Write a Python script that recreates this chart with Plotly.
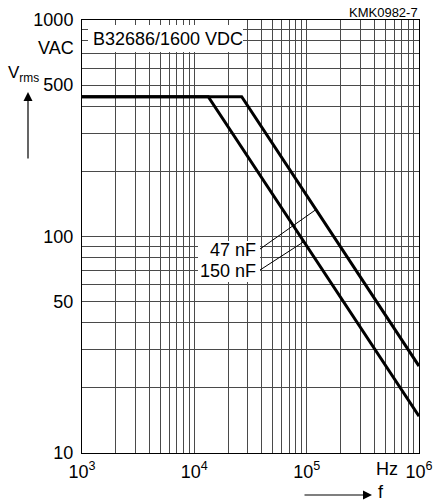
import numpy as np
import plotly.graph_objects as go

# ---- data ----
f_47nF = [1e3, 2.64e4, 1e6]
v_47nF = [442, 442, 25.2]
f_150nF = [1e3, 1.33e4, 1e6]
v_150nF = [442, 442, 14.8]

series_names = ["47 nF", "150 nF"]
# leader-line: label anchor (f, V) and the frequency where it meets the curve
leader_start_f = [3.84e4, 3.84e4]
leader_start_v = [87.5, 70.0]
leader_end_f = [1.21e5, 9.44e4]

x_major = [1e3, 1e4, 1e5, 1e6]
x_major_text = ["10<sup>3</sup>", "10<sup>4</sup>", "10<sup>5</sup>", "10<sup>6</sup>"]
y_major = [10, 50, 100, 500, 1000]
y_major_text = ["10", "50", "100", "500", "1000"]
minor_digits = [2, 3, 4, 5, 6, 7, 8, 9]

W, H = 437, 503
L, R, T, B = 82, 18, 20, 50
PW, PH = W - L - R, H - T - B


def px(xp):
    return (xp - L) / PW


def py(yp):
    return (H - B - yp) / PH


FONT = "Liberation Sans, Arial, Helvetica, sans-serif"
GRID = "#4a4a4a"

x_minor = [d * 10 ** e for e in range(3, 6) for d in minor_digits]
y_minor = [d * 10 ** e for e in range(1, 3) for d in minor_digits if d != 5]

fig = go.Figure()
for f, v, name in [(f_47nF, v_47nF, series_names[0]), (f_150nF, v_150nF, series_names[1])]:
    fig.add_trace(go.Scatter(x=f, y=v, mode="lines", name=name,
                             line=dict(color="black", width=3), hoverinfo="skip"))

curves = [(f_47nF, v_47nF), (f_150nF, v_150nF)]
for i, (f, v) in enumerate(curves):
    fe = leader_end_f[i]
    ve = 10 ** np.interp(np.log10(fe), np.log10(f), np.log10(v))
    fig.add_trace(go.Scatter(x=[leader_start_f[i], fe], y=[leader_start_v[i], ve],
                             mode="lines", line=dict(color="black", width=1),
                             hoverinfo="skip", showlegend=False))

axis_common = dict(type="log", showgrid=True, gridcolor=GRID, gridwidth=1,
                   showline=True, linecolor="black", linewidth=1, mirror=True,
                   zeroline=False, ticks="", automargin=False,
                   tickfont=dict(family=FONT, size=18, color="black"))

fig.update_xaxes(range=[3, 6], tickmode="array", tickvals=x_major, ticktext=x_major_text,
                 minor=dict(tickvals=x_minor, showgrid=True, gridcolor=GRID, gridwidth=1, ticks=""),
                 ticklabelstandoff=2, **axis_common)
fig.update_yaxes(range=[1, 3], tickmode="array", tickvals=y_major, ticktext=y_major_text,
                 minor=dict(tickvals=y_minor, showgrid=True, gridcolor=GRID, gridwidth=1, ticks=""),
                 ticklabelstandoff=4, **axis_common)

shapes = [
    dict(type="rect", xref="paper", yref="paper", x0=px(88), x1=px(243), y0=py(52), y1=py(25),
         fillcolor="white", line=dict(width=0), layer="above"),
    dict(type="rect", xref="paper", yref="paper", x0=px(198), x1=px(260), y0=py(282), y1=py(241),
         fillcolor="white", line=dict(width=0), layer="above"),
]

ann = []


def text(xp, yp, s, size=18, xanchor="center", yanchor="middle"):
    ann.append(dict(xref="paper", yref="paper", x=px(xp), y=py(yp), text=s, showarrow=False,
                    xanchor=xanchor, yanchor=yanchor,
                    font=dict(family=FONT, size=size, color="black")))


text(91, 39, "B32686/1600 VDC", xanchor="left")
text(258, 250, series_names[0], xanchor="right")
text(258, 271, series_names[1], xanchor="right")
text(76, 48, "VAC", xanchor="right")
text(6, 74, "V<sub>rms</sub>", size=17, xanchor="left")
text(387, 469, "Hz")
text(381, 492, "f")
text(420, 12, "KMK0982-7", size=13, xanchor="right")

# arrows
ann.append(dict(xref="paper", yref="paper", x=px(28), y=py(92), ax=0, ay=68, text="",
                showarrow=True, arrowhead=2, arrowsize=1.5, arrowwidth=1.2, arrowcolor="black"))
ann.append(dict(xref="paper", yref="paper", x=px(372), y=py(495), ax=-69, ay=0, text="",
                showarrow=True, arrowhead=2, arrowsize=1.5, arrowwidth=1.2, arrowcolor="black"))

fig.update_layout(width=W, height=H, margin=dict(l=L, r=R, t=T, b=B, pad=0, autoexpand=False),
                  plot_bgcolor="white", paper_bgcolor="white", showlegend=False,
                  shapes=shapes, annotations=ann, font=dict(family=FONT))

fig.write_html("out.html", config={"displayModeBar": False},
               post_script="document.body.style.margin='0';document.body.style.overflow='hidden';")
